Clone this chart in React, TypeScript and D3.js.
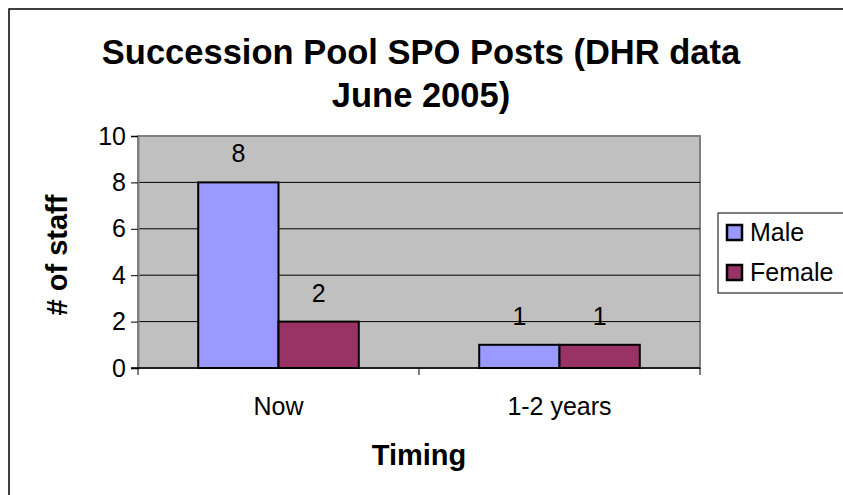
import { useEffect, useRef } from 'react';
import * as d3 from 'd3';

// Chart data
const categories = ['Now', '1-2 years'];
const seriesNames = ['Male', 'Female'];
const maleValues = [8, 1];
const femaleValues = [2, 1];
const yTicks = [0, 2, 4, 6, 8, 10];
const seriesColors = ['#9999FF', '#993366'];

const FONT = '"Liberation Sans", Arial, sans-serif';

export default function App() {
  const svgRef = useRef<SVGSVGElement>(null);

  useEffect(() => {
    if (!svgRef.current) return;
    const svg = d3.select(svgRef.current);
    svg.selectAll('*').remove();

    const width = 843;
    const height = 495;
    const plot = { left: 138, right: 700, top: 136, bottom: 368 };

    svg.attr('width', width).attr('height', height).style('display', 'block');

    // Background + outer chart border (only top/left visible)
    svg.append('rect').attr('width', width).attr('height', height).attr('fill', '#ffffff');
    svg
      .append('rect')
      .attr('x', 9)
      .attr('y', 9)
      .attr('width', width + 20)
      .attr('height', height + 20)
      .attr('fill', 'none')
      .attr('stroke', '#000')
      .attr('stroke-width', 1.5);

    // Scales
    const x0 = d3.scaleBand<string>().domain(categories).range([plot.left, plot.right]);
    const x1 = d3
      .scaleBand<string>()
      .domain(seriesNames)
      .range([0, x0.bandwidth()])
      .paddingOuter(0.75)
      .paddingInner(0);
    const y = d3.scaleLinear().domain([0, 10]).range([plot.bottom, plot.top]);

    // Plot area
    svg
      .append('rect')
      .attr('x', plot.left)
      .attr('y', y(10))
      .attr('width', plot.right - plot.left)
      .attr('height', y(0) - y(10))
      .attr('fill', '#C0C0C0')
      .attr('stroke', '#808080')
      .attr('stroke-width', 2);

    // Gridlines
    svg
      .append('g')
      .selectAll('line')
      .data(yTicks.filter((t) => t > 0 && t < 10))
      .join('line')
      .attr('x1', plot.left)
      .attr('x2', plot.right)
      .attr('y1', (d) => y(d))
      .attr('y2', (d) => y(d))
      .attr('stroke', '#000')
      .attr('stroke-width', 1);

    // Y axis
    const yAxis = svg
      .append('g')
      .attr('transform', `translate(${plot.left},0)`)
      .call(d3.axisLeft(y).tickValues(yTicks).tickSize(7).tickPadding(5).tickFormat(d3.format('d')));
    yAxis.select('.domain').attr('stroke', '#808080').attr('stroke-width', 2);
    yAxis.selectAll('.tick line').attr('stroke', '#000');
    yAxis
      .selectAll('text')
      .attr('fill', '#000')
      .style('font-family', FONT)
      .style('font-size', '25px');

    // X axis
    const xAxis = svg
      .append('g')
      .attr('transform', `translate(0,${plot.bottom})`)
      .call(d3.axisBottom(x0).tickSize(0).tickPadding(29));
    xAxis.select('.domain').remove();
    xAxis
      .selectAll('text')
      .attr('fill', '#000')
      .style('font-family', FONT)
      .style('font-size', '25px');
    svg
      .append('line')
      .attr('x1', plot.left - 7)
      .attr('x2', plot.right)
      .attr('y1', plot.bottom)
      .attr('y2', plot.bottom)
      .attr('stroke', '#000')
      .attr('stroke-width', 1.5);
    const boundaries = [plot.left, ...categories.slice(1).map((c) => x0(c) as number), plot.right];
    svg
      .append('g')
      .selectAll('line')
      .data(boundaries)
      .join('line')
      .attr('x1', (d) => d)
      .attr('x2', (d) => d)
      .attr('y1', plot.bottom)
      .attr('y2', plot.bottom + 7)
      .attr('stroke', '#000')
      .attr('stroke-width', 1);

    // Bars
    const rows = categories.map((c, i) => ({
      category: c,
      values: [maleValues[i], femaleValues[i]],
    }));
    const groups = svg
      .append('g')
      .selectAll('g')
      .data(rows)
      .join('g')
      .attr('transform', (d) => `translate(${x0(d.category)},0)`);
    groups
      .selectAll('rect')
      .data((d) => d.values.map((v, j) => ({ v, name: seriesNames[j], j })))
      .join('rect')
      .attr('x', (d) => x1(d.name) as number)
      .attr('y', (d) => y(d.v))
      .attr('width', x1.bandwidth())
      .attr('height', (d) => y(0) - y(d.v))
      .attr('fill', (d) => seriesColors[d.j])
      .attr('stroke', '#000')
      .attr('stroke-width', 2);
    groups
      .selectAll('text')
      .data((d) => d.values.map((v, j) => ({ v, name: seriesNames[j] })))
      .join('text')
      .attr('x', (d) => (x1(d.name) as number) + x1.bandwidth() / 2)
      .attr('y', (d) => y(d.v) - 20)
      .attr('text-anchor', 'middle')
      .style('font-family', FONT)
      .style('font-size', '25px')
      .text((d) => d.v);

    // Title
    const title = svg
      .append('text')
      .attr('text-anchor', 'middle')
      .style('font-family', FONT)
      .style('font-size', '34.5px')
      .style('font-weight', 'bold');
    title.append('tspan').attr('x', 421).attr('y', 64).text('Succession Pool SPO Posts (DHR data');
    title.append('tspan').attr('x', 421).attr('y', 107).text('June 2005)');

    // Axis titles
    svg
      .append('text')
      .attr('transform', `translate(67,255) rotate(-90)`)
      .attr('text-anchor', 'middle')
      .style('font-family', FONT)
      .style('font-size', '29px')
      .style('font-weight', 'bold')
      .text('# of staff');
    svg
      .append('text')
      .attr('x', 419)
      .attr('y', 465)
      .attr('text-anchor', 'middle')
      .style('font-family', FONT)
      .style('font-size', '29px')
      .style('font-weight', 'bold')
      .text('Timing');

    // Legend
    const legend = svg.append('g');
    legend
      .append('rect')
      .attr('x', 718)
      .attr('y', 213)
      .attr('width', 140)
      .attr('height', 80)
      .attr('fill', '#fff')
      .attr('stroke', '#000')
      .attr('stroke-width', 1);
    const items = legend
      .selectAll('g')
      .data(seriesNames)
      .join('g')
      .attr('transform', (_, i) => `translate(727,${225 + i * 40})`);
    items
      .append('rect')
      .attr('width', 15)
      .attr('height', 15)
      .attr('fill', (_, i) => seriesColors[i])
      .attr('stroke', '#000')
      .attr('stroke-width', 2.5);
    items
      .append('text')
      .attr('x', 23)
      .attr('y', 16)
      .style('font-family', FONT)
      .style('font-size', '25px')
      .text((d) => d);
  }, []);

  return <svg ref={svgRef} style={{ position: 'absolute', left: 0, top: 0 }} />;
}
